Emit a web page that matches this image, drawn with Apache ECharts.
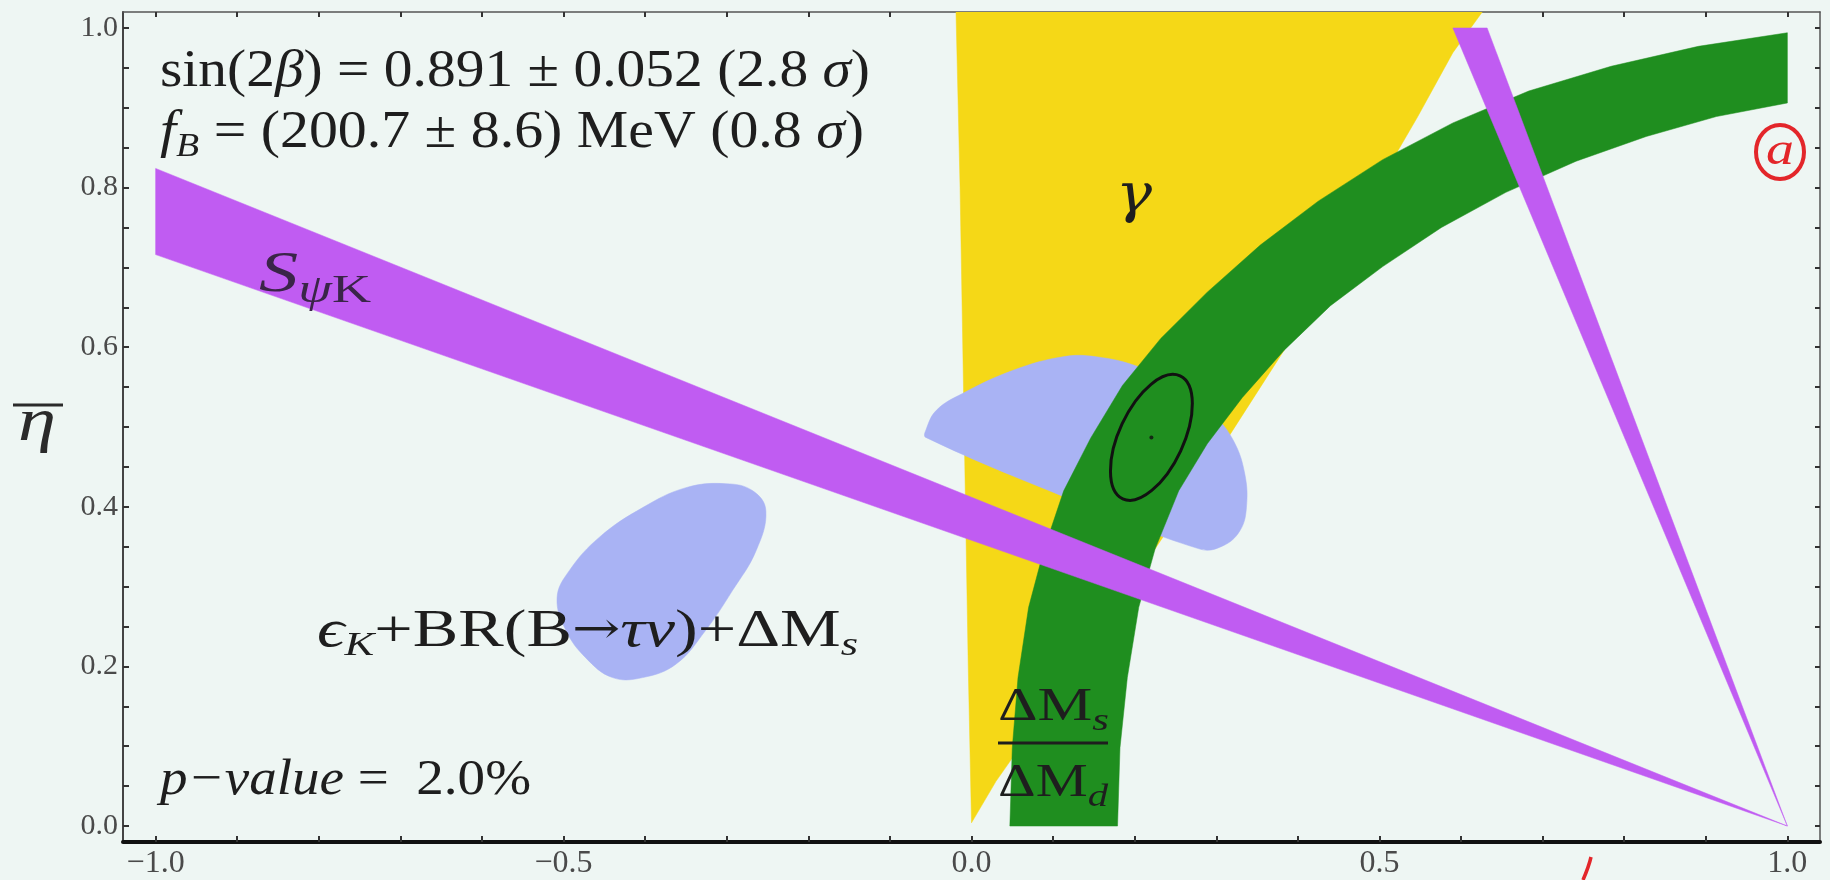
<!DOCTYPE html>
<html>
<head>
<meta charset="utf-8">
<script src="https://cdn.jsdelivr.net/npm/echarts@6/dist/echarts.min.js"></script>
<style>
  html, body { margin: 0; padding: 0; background: #eef6f3; }
  #chart { width: 1830px; height: 880px; }
</style>
</head>
<body>
<div id="chart"></div>
<script>
// ---- axes: tick positions and labelled values (rho-bar horizontally, eta-bar vertically)
const xTicks = [-1.0, -0.9, -0.8, -0.7, -0.6, -0.5, -0.4, -0.3, -0.2, -0.1, 0.0,
                0.1, 0.2, 0.3, 0.4, 0.5, 0.6, 0.7, 0.8, 0.9, 1.0];
const xLabels = [-1.0, -0.5, 0.0, 0.5, 1.0];
const yTicks = [0.0, 0.05, 0.1, 0.15, 0.2, 0.25, 0.3, 0.35, 0.4, 0.45, 0.5,
                0.55, 0.6, 0.65, 0.7, 0.75, 0.8, 0.85, 0.9, 0.95, 1.0];
const yLabels = [0.0, 0.2, 0.4, 0.6, 0.8, 1.0];

// ---- constraint regions, outlines in (rho-bar, eta-bar)
// gamma: wedge opening from the origin
const gammaRegion = [
  [0.0, 0.004], [-0.004, 0.2], [-0.009, 0.5], [-0.014, 0.8], [-0.019, 1.02],
  [0.626, 1.02], [0.590, 0.969], [0.547, 0.889], [0.468, 0.750],
  [0.383, 0.596], [0.282, 0.435], [0.139, 0.215], [0.03, 0.056]
];
// eps_K + BR(B->tau nu) + Delta M_s : two islands
const blobUpper = [
  [-0.056, 0.496], [-0.043, 0.521], [-0.011, 0.542], [0.051, 0.571], [0.112, 0.588],
  [0.153, 0.588], [0.206, 0.575], [0.255, 0.550], [0.296, 0.516], [0.321, 0.483],
  [0.335, 0.441], [0.337, 0.399], [0.329, 0.370], [0.308, 0.351], [0.280, 0.347],
  [0.120, 0.410], [-0.056, 0.487]
];
const blobLower = [
  [-0.252, 0.395], [-0.268, 0.420], [-0.301, 0.429], [-0.350, 0.424], [-0.403, 0.399],
  [-0.456, 0.362], [-0.493, 0.320], [-0.508, 0.286], [-0.497, 0.245], [-0.473, 0.211],
  [-0.440, 0.186], [-0.403, 0.186], [-0.362, 0.203], [-0.326, 0.245], [-0.293, 0.295],
  [-0.264, 0.345]
];
// Delta M_s / Delta M_d: annulus around (1, 0) -- outer edge then inner edge
const dmOuter = [
  [0.047, 0.0], [0.050, 0.098], [0.057, 0.186], [0.070, 0.274], [0.089, 0.347],
  [0.113, 0.420], [0.146, 0.486], [0.185, 0.552], [0.232, 0.611], [0.289, 0.669],
  [0.354, 0.728], [0.425, 0.783], [0.504, 0.835], [0.590, 0.881], [0.683, 0.921],
  [0.784, 0.952], [0.891, 0.977], [1.0, 0.994]
];
const dmInner = [
  [1.0, 0.906], [0.913, 0.889], [0.827, 0.864], [0.741, 0.833], [0.655, 0.794],
  [0.576, 0.750], [0.504, 0.701], [0.440, 0.652], [0.383, 0.596], [0.332, 0.537],
  [0.289, 0.479], [0.254, 0.420], [0.225, 0.347], [0.205, 0.274], [0.191, 0.186],
  [0.182, 0.098], [0.179, 0.0]
];
// S_psiK: wedge from (1, 0)
const sPsiKBand = [[-1.0, 0.824], [1.0, 0.0], [-1.0, 0.716]];
// alpha: narrow wedge from (1, 0) towards the top
const alphaBand = [[0.590, 1.0], [0.632, 1.0], [1.0, 0.0]];
// global fit: best point, and the tips of the contour's long and short half-axes
const fitBest = [0.2205, 0.487];
const fitMajorTip = [0.2555, 0.564];
const fitMinorTip = [0.2563, 0.4699];

// ---- colours
const C_BG = '#eef6f3';
const C_YELLOW = '#f5d817';
const C_BLUE = '#a9b3f4';
const C_GREEN = '#1f8e1f';
const C_PURPLE = '#c05cf2';
const C_TEXT = '#1e1e1e';
const C_RED = '#e3262a';

function regionSeries(name, pts, color, z, smooth) {
  return {
    type: 'custom', name: name, coordinateSystem: 'cartesian2d',
    xAxisIndex: 0, yAxisIndex: 0, data: pts, z: z, silent: true, clip: true,
    renderItem: function (params, api) {
      if (params.dataIndex !== 0) return null;
      return {
        type: 'polygon',
        shape: { points: pts.map(function (p) { return api.coord(p); }), smooth: smooth || 0 },
        style: { fill: color, stroke: color, lineWidth: 0.5 }
      };
    }
  };
}

// fit contour: ellipse spanned by the two half-axis tips around the best point
const fitContourSeries = {
  type: 'custom', name: 'fit contour', coordinateSystem: 'cartesian2d',
  xAxisIndex: 0, yAxisIndex: 0, data: [fitBest], z: 5, silent: true,
  renderItem: function (params, api) {
    const c = api.coord(fitBest);
    const a = api.coord(fitMajorTip);
    const b = api.coord(fitMinorTip);
    const ry = Math.hypot(a[0] - c[0], a[1] - c[1]);
    const rx = Math.hypot(b[0] - c[0], b[1] - c[1]);
    return {
      type: 'ellipse', x: c[0], y: c[1],
      rotation: Math.atan2(-(b[1] - c[1]), b[0] - c[0]),
      shape: { cx: 0, cy: 0, rx: rx, ry: ry },
      style: { fill: null, stroke: '#111', lineWidth: 3 }
    };
  }
};

// ---- text runs built from pieces (roman / italic / subscript)
const measureCtx = document.createElement('canvas').getContext('2d');
const FAMILY = '"Liberation Serif", "DejaVu Serif", serif';
function fontOf(p) {
  return (p.italic ? 'italic ' : '') + p.size + 'px ' + (p.family || FAMILY);
}
function textRun(x, baseline, width, pieces, color) {
  let cx = 0;
  const kids = [];
  pieces.forEach(function (p) {
    const f = fontOf(p);
    measureCtx.font = f;
    const w = measureCtx.measureText(p.t).width;
    kids.push({
      type: 'text', x: cx, y: (p.dy || 0) - 0.34 * p.size, z: 100, silent: true,
      style: { text: p.t, font: f, fill: color, align: 'left', verticalAlign: 'middle',
               textAlign: 'left', textVerticalAlign: 'middle' }
    });
    cx += w;
  });
  return { type: 'group', x: x, y: baseline, scaleX: width / cx, children: kids, z: 100, silent: true };
}

const R = 52;
const SUB = 34;
const graphics = [
  textRun(160, 90, 710, [
    { t: 'sin(2', size: R }, { t: 'β', size: R, italic: true },
    { t: ') = 0.891 ± 0.052 (2.8 ', size: R }, { t: 'σ', size: R, italic: true },
    { t: ')', size: R }
  ], C_TEXT),
  textRun(160, 151, 704, [
    { t: 'f', size: R, italic: true }, { t: 'B', size: SUB, italic: true, dy: 8 },
    { t: ' = (200.7 ± 8.6) MeV (0.8 ', size: R }, { t: 'σ', size: R, italic: true },
    { t: ')', size: R }
  ], C_TEXT),
  textRun(1116, 216, 36, [{ t: 'γ', size: 54, italic: true, family: '"DejaVu Serif", serif' }], C_TEXT),
  textRun(259, 295, 112, [
    { t: 'S', size: 58, italic: true }, { t: 'ψ', size: 40, italic: true, dy: 10 },
    { t: 'K', size: 40, dy: 10 }
  ], '#3a2548'),
  textRun(317, 650, 541, [
    { t: 'ϵ', size: R, italic: true }, { t: 'K', size: SUB, italic: true, dy: 8 },
    { t: '+BR(B', size: R }, { t: '→', size: 44, family: '"DejaVu Serif", serif', dy: -3 },
    { t: 'τν', size: R, italic: true },
    { t: ')+ΔM', size: R }, { t: 's', size: SUB, italic: true, dy: 8 }
  ], C_TEXT),
  textRun(998, 724, 111, [
    { t: 'ΔM', size: 46 }, { t: 's', size: 32, italic: true, dy: 8 }
  ], C_TEXT),
  textRun(998, 800, 110, [
    { t: 'ΔM', size: 46 }, { t: 'd', size: 32, italic: true, dy: 8 }
  ], C_TEXT),
  { type: 'line', z: 100, silent: true, shape: { x1: 998, y1: 743, x2: 1108, y2: 743 },
    style: { stroke: C_TEXT, lineWidth: 3 } },
  textRun(160, 798, 371, [
    { t: 'p−value', size: 50, italic: true }, { t: ' =  2.0%', size: 50 }
  ], C_TEXT),
  // vertical axis title: eta-bar
  textRun(18, 445, 38, [{ t: 'η', size: 62, italic: true }], '#2a2a2a'),
  { type: 'line', z: 100, silent: true, shape: { x1: 13, y1: 405, x2: 63, y2: 405 },
    style: { stroke: '#2a2a2a', lineWidth: 3 } },
  // handwritten red marks
  { type: 'ellipse', z: 100, silent: true, shape: { cx: 1780, cy: 152, rx: 24, ry: 27 },
    style: { fill: null, stroke: C_RED, lineWidth: 4 } },
  textRun(1766, 168, 28, [{ t: 'a', size: 46, italic: true }], C_RED),
  { type: 'bezierCurve', z: 100, silent: true,
    shape: { x1: 1591, y1: 857, cpx1: 1589, cpy1: 866, x2: 1583, y2: 880 },
    style: { fill: null, stroke: C_RED, lineWidth: 3.5 } }
];

const fmtX = function (v) { return (v < 0 ? '−' : '') + Math.abs(v).toFixed(1); };
const fmtY = function (v) { return v.toFixed(1); };
const labelFont = { fontFamily: FAMILY, color: '#4a4a4a' };

const chart = echarts.init(document.getElementById('chart'), null, { renderer: 'canvas' });
chart.setOption({
  backgroundColor: C_BG,
  animation: false,
  grid: { left: 123, top: 12, width: 1697, height: 830, show: false },
  xAxis: [
    { type: 'value', position: 'bottom', min: -1.04, max: 1.04,
      axisLine: { onZero: false, lineStyle: { color: '#111', width: 4 } },
      axisTick: { inside: true, length: 6, customValues: xTicks, lineStyle: { color: '#333', width: 2 } },
      axisLabel: Object.assign({ customValues: xLabels, formatter: fmtX, fontSize: 32, margin: 6 }, labelFont),
      splitLine: { show: false } },
    { type: 'value', position: 'top', min: -1.04, max: 1.04,
      axisLine: { onZero: false, lineStyle: { color: '#555', width: 1.5 } },
      axisTick: { inside: true, length: 5, customValues: xTicks, lineStyle: { color: '#333', width: 2 } },
      axisLabel: { show: false }, splitLine: { show: false } }
  ],
  yAxis: [
    { type: 'value', position: 'left', min: -0.02, max: 1.02,
      axisLine: { onZero: false, lineStyle: { color: '#444', width: 2 } },
      axisTick: { inside: true, length: 6, customValues: yTicks, lineStyle: { color: '#333', width: 2 } },
      axisLabel: Object.assign({ customValues: yLabels, formatter: fmtY, fontSize: 30, margin: 5 }, labelFont),
      splitLine: { show: false } },
    { type: 'value', position: 'right', min: -0.02, max: 1.02,
      axisLine: { onZero: false, lineStyle: { color: '#555', width: 1.5 } },
      axisTick: { inside: true, length: 5, customValues: yTicks, lineStyle: { color: '#333', width: 2 } },
      axisLabel: { show: false }, splitLine: { show: false } }
  ],
  series: [
    regionSeries('gamma', gammaRegion, C_YELLOW, 1, 0),
    regionSeries('epsK+BR+dMs (upper)', blobUpper, C_BLUE, 2, 0.4),
    regionSeries('epsK+BR+dMs (lower)', blobLower, C_BLUE, 2, 0.4),
    regionSeries('dMs/dMd', dmOuter.concat(dmInner), C_GREEN, 3, 0),
    regionSeries('S_psiK', sPsiKBand, C_PURPLE, 4, 0),
    regionSeries('alpha', alphaBand, C_PURPLE, 4, 0),
    fitContourSeries,
    { type: 'scatter', name: 'best fit', data: [fitBest], symbolSize: 4, z: 6, silent: true,
      itemStyle: { color: '#111' } }
  ],
  graphic: { elements: graphics }
});
</script>
</body>
</html>
